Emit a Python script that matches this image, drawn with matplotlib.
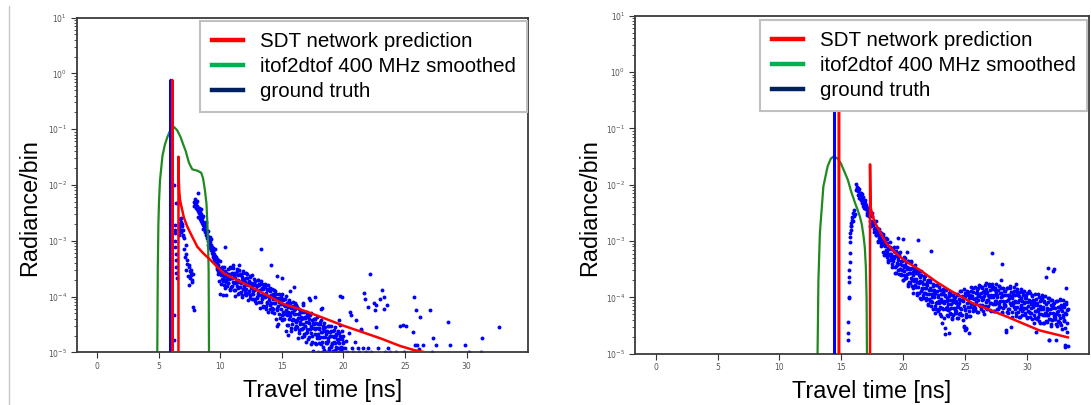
import numpy as np
import matplotlib.pyplot as plt
from matplotlib.lines import Line2D
from matplotlib.ticker import NullFormatter

# shared axis settings
x_lim = (-1.665, 34.965)
y_lim = (1e-5, 1e1)
x_ticks = [0, 5, 10, 15, 20, 25, 30]
bin_ns = 0.05

legend_labels = ['SDT network prediction', 'itof2dtof 400 MHz smoothed', 'ground truth']
legend_colors = ['#ff0000', '#00b050', '#002060']

# ---------------- left scene ----------------
left_gt_t = [5.93, 5.97, 6.01]
left_gt_r = [0, 0.76, 0]

left_pred_t = [6.06, 6.10, 6.14, 6.56, 6.60, 6.63, 6.66, 6.72, 6.80, 6.91, 7.04, 7.31, 7.70,
               8.13, 8.60, 9.20, 10.28, 11.30, 12.45, 13.80, 15.15, 16.30, 17.58, 18.80,
               20.00, 23.00, 24.60, 25.70, 26.64, 33.30]
left_pred_r = [0, 0.76, 0, 0, 0.032, 0.012, 8e-3, 5.5e-3, 4.5e-3, 3.5e-3, 2.6e-3, 1.8e-3, 1.2e-3,
               7.8e-4, 6.0e-4, 4.5e-4, 2.6e-4, 2.0e-4, 1.5e-4, 1.05e-4, 7.3e-5, 6.1e-5, 4.8e-5, 3.8e-5,
               3.0e-5, 1.78e-5, 1.3e-5, 1.1e-5, 1.0e-5, 4e-6]

left_itof_t = [4.86, 4.88, 4.92, 4.97, 5.02, 5.10, 5.20, 5.30, 5.50, 5.70, 5.95, 6.22, 6.50, 6.77,
               7.00, 7.18, 7.45, 7.72, 8.13, 8.45, 8.60, 8.75, 8.88, 8.99, 9.05, 9.08, 9.10]
left_itof_r = [0, 1e-5, 3e-4, 2e-3, 5e-3, 1.2e-2, 2.0e-2, 3.3e-2, 5.3e-2, 7.2e-2, 9.7e-2, 0.11, 0.095, 0.072,
               0.052, 0.041, 0.025, 0.019, 0.018, 0.0165, 0.013, 8e-3, 4.5e-3, 1.2e-3, 3e-4, 1e-5, 0]

# measured bins, irregular part (log10 radiance)
left_dots_t = [
    6.22, 6.25, 6.28, 6.30, 6.32, 6.34, 6.36, 6.38, 6.40, 6.42, 6.44, 6.46, 6.27, 6.33,
    6.62, 6.66, 6.70, 6.73, 6.76, 6.80, 6.83, 6.86, 6.90, 6.93, 6.97, 7.00, 7.04, 6.68, 6.78, 6.88,
    7.05, 7.12, 7.19, 7.23, 7.27, 7.33, 7.38, 7.42, 7.47, 7.50, 7.54, 7.58, 7.61, 7.65, 7.68,
    7.72, 7.75, 7.80, 7.90, 7.47, 7.19,
    7.88, 7.92, 7.95, 7.98, 8.02, 8.05, 8.08, 8.12, 8.15, 8.18, 8.22, 8.25, 8.28, 8.32, 8.35,
    8.38, 8.42, 8.45, 8.48, 8.52, 8.55, 8.58, 8.62, 8.65, 8.68, 8.72, 8.75, 8.78, 8.82, 8.85,
    8.88, 8.92, 8.95, 8.98, 9.02, 9.05, 9.08, 9.12, 9.15, 9.18, 9.22, 9.25, 9.28, 9.32, 9.35,
    9.38, 9.42, 9.45, 9.48, 9.52, 9.55, 9.58,
    7.90, 7.97, 8.03, 8.10, 8.17, 8.23, 8.30, 8.37, 8.43, 8.50, 8.57, 8.63, 8.70, 8.77, 8.83,
    8.90, 8.97, 9.03, 9.10, 9.17, 9.23, 9.30, 9.37, 9.43, 9.50, 9.57, 9.63, 9.70, 9.77, 9.83,
    9.90, 9.97, 10.03, 10.10, 10.17, 10.23, 10.30, 10.37, 10.43, 10.50, 10.57,
    9.62, 9.65, 9.68, 9.72, 9.75, 9.78, 9.82, 9.85, 9.88, 9.92, 9.95, 9.98, 10.02, 10.05, 10.08,
    10.12, 10.15, 10.18, 10.22, 10.25, 10.28, 10.32, 10.35, 10.38, 10.42, 10.45, 10.48, 10.52,
    10.55, 10.58, 10.41,
    13.34, 14.12, 14.61, 15.02, 11.50, 10.50, 14.60, 15.48, 16.02, 15.64, 16.10, 16.70, 16.75,
    17.22, 17.25, 17.73, 18.18, 18.27, 19.67, 19.70, 19.75, 19.87,
    20.10, 20.20, 20.30, 20.45, 20.50, 20.60, 20.70, 20.80, 20.90, 21.05, 21.15, 21.30, 21.40,
    21.45, 21.60, 21.70, 21.72, 21.80, 21.96, 22.00, 22.13, 22.20, 22.45, 22.59, 22.67, 22.80,
    23.00, 23.13, 23.26, 23.40, 23.60, 23.80, 24.30, 24.60, 24.83, 25.10, 24.90, 25.64, 25.75,
    25.80, 25.89, 25.95, 26.13, 26.18, 26.50, 26.99, 27.20, 27.26, 27.53, 28.53, 28.67, 29.89,
    30.16, 31.19, 31.27, 32.67, 22.62, 23.50, 23.28]
left_dots_log = [
    -4.33, -2.00, -2.72, -2.87, -3.00, -3.11, -3.23, -3.35, -2.33, -3.47, -3.58, -3.67, -4.78, -2.80,
    -2.70, -2.77, -2.62, -2.82, -2.72, -2.66, -2.85, -2.74, -2.70, -2.89, -2.80, -2.92, -2.96, -2.89, -2.59, -2.81,
    -3.14, -3.29, -3.23, -3.08, -3.35, -3.41, -3.64, -3.47, -3.79, -3.55, -3.67, -3.58, -3.62, -3.52, -3.70,
    -3.74, -3.60, -4.18, -4.24, -3.44, -3.52,
    -2.30, -2.38, -2.25, -2.34, -2.41, -2.32, -2.44, -2.37, -2.47, -2.15, -2.42, -2.51, -2.44, -2.55, -2.48,
    -2.60, -2.52, -2.64, -2.57, -2.68, -2.60, -2.72, -2.66, -2.77, -2.70, -2.81, -2.74, -2.85, -2.80, -2.90,
    -2.84, -2.96, -2.89, -3.00, -2.94, -3.05, -2.98, -3.09, -3.02, -3.13, -3.07, -3.17, -3.11, -3.22, -3.15,
    -3.26, -3.19, -3.30, -3.24, -3.34, -3.28, -3.38,
    -2.37, -2.29, -2.38, -2.29, -2.57, -2.41, -2.49, -2.62, -2.44, -2.64, -2.56, -2.79, -2.70, -2.80, -2.67,
    -2.92, -2.83, -3.08, -2.99, -2.93, -2.97, -3.12, -3.30, -3.13, -3.31, -3.15, -3.35, -3.32, -3.50, -3.34,
    -3.49, -3.36, -3.59, -3.51, -3.48, -3.69, -3.47, -3.60, -3.57, -3.70, -3.59,
    -3.30, -3.41, -3.35, -3.48, -3.40, -3.54, -3.44, -3.60, -3.51, -3.72, -3.55, -3.96, -3.62, -3.52, -3.77,
    -3.59, -3.68, -3.98, -3.57, -3.72, -3.64, -3.80, -3.54, -3.70, -3.85, -3.62, -3.74, -3.59,
    -3.82, -3.66, -3.12,
    -3.15, -3.44, -3.64, -3.67, -3.43, -3.98, -4.53, -4.69, -3.83, -3.91, -4.12, -4.12, -4.15,
    -4.03, -4.06, -4.01, -4.23, -4.21, -4.42, -4.51, -3.99, -4.00,
    -4.92, -4.80, -5.00, -4.66, -4.27, -4.34, -4.92, -5.00, -4.82, -4.42, -4.92, -5.00, -4.59,
    -4.60, -4.92, -3.94, -4.04, -5.00, -4.19, -4.92, -3.60, -5.00, -4.12, -4.24, -4.55, -4.92,
    -4.05, -3.88, -4.23, -5.00, -4.92, -5.00, -5.00, -4.52, -4.51, -4.53, -5.00, -4.63, -4.01,
    -4.87, -4.24, -4.87, -4.94, -4.37, -4.87, -4.24, -5.00, -4.74, -4.87, -4.45, -4.87, -4.87,
    -5.00, -5.00, -4.74, -4.55, -4.15, -4.15, -4.00]

# regular bins, two interleaved passes (log10 radiance)
left_band_start = 10.600
left_band_log = [
    -3.50, -3.75, -3.61, -3.88, -3.47, -3.67, -3.83, -3.58, -3.74, -3.44,
    -3.88, -3.62, -3.99, -3.59, -3.74, -3.54, -3.85, -3.70, -3.94, -3.52,
    -3.83, -3.61, -3.92, -3.70, -4.01, -3.58, -3.81, -3.69, -3.91, -3.58,
    -3.98, -3.78, -3.67, -4.07, -3.74, -3.91, -3.65, -3.97, -3.80, -4.05,
    -3.62, -3.91, -3.75, -4.04, -3.86, -3.72, -4.12, -3.81, -4.01, -3.71,
    -3.94, -3.80, -4.20, -3.88, -4.09, -3.77, -4.03, -3.86, -4.17, -3.83,
    -4.00, -3.77, -4.17, -3.94, -4.11, -3.86, -4.27, -4.00, -4.15, -3.85,
    -4.11, -3.97, -4.28, -3.95, -4.22, -3.89, -4.12, -4.03, -4.41, -3.96,
    -4.21, -4.02, -4.50, -4.10, -4.32, -4.02, -4.22, -4.00, -4.42,
    -4.07, -4.40, -4.16, -4.32, -4.04, -4.61, -4.24, -4.11, -4.51, -4.19,
    -4.40, -4.07, -4.35, -4.20, -4.61, -4.28, -4.49, -4.17, -4.43, -4.24,
    -4.59, -4.32, -4.52, -4.19, -4.42, -4.75, -4.32, -4.60, -4.27, -4.50,
    -4.41, -4.72, -4.27, -4.56, -4.39, -4.67, -4.36, -4.52, -4.81, -4.34,
    -4.63, -4.46, -4.76, -4.40, -4.59, -4.34, -4.85, -4.53, -4.71, -4.47,
    -4.97, -4.50, -4.67, -4.41, -4.85, -4.57, -4.75, -4.49, -4.99, -4.57,
    -4.74, -4.46, -4.85, -4.64, -5.00, -4.53, -4.73, -4.60, -4.95, -4.54,
    -4.82, -4.67, -5.00, -4.61, -4.80, -4.53, -4.92, -4.71, -4.88, -4.62,
    -4.86, -4.71, -5.00, -4.60, -4.82, -4.70, -4.96, -4.69, -4.93, -4.77,
    -4.62, -4.93, -4.76, -5.00, -4.70, -4.90, -4.76, -5.00, -4.83, -4.70]
left_band2_start = 10.625
left_band2_log = [
    -3.76, -3.59, -3.68, -3.49, -3.87, -3.59, -3.66, -3.81, -3.49, -3.76,
    -3.57, -3.88, -3.67, -3.75, -3.50, -3.81, -3.62, -3.95, -3.74, -3.59,
    -3.60, -3.75, -3.98, -3.65, -3.86, -3.55, -3.81, -3.74, -3.96, -3.66,
    -3.86, -3.60, -3.93, -3.79, -3.72, -4.02, -3.64, -3.85, -3.76, -3.95,
    -3.96, -3.79, -3.88, -3.69, -4.08, -3.79, -3.87, -4.02, -3.70, -3.98,
    -3.78, -4.10, -3.89, -3.97, -3.72, -4.04, -3.84, -4.18, -3.97, -3.82,
    -3.83, -3.99, -4.22, -3.89, -4.10, -3.80, -4.06, -3.99, -4.22, -3.91,
    -4.12, -3.86, -4.20, -4.05, -3.99, -4.29, -3.91, -4.12, -4.04, -4.22,
    -4.25, -4.05, -4.17, -3.95, -4.38, -4.06, -4.14, -4.33, -3.96, -4.27,
    -4.05, -4.41, -4.17, -4.28, -3.99, -4.34, -4.12, -4.51, -4.27, -4.10,
    -4.11, -4.30, -4.56, -4.19, -4.43, -4.09, -4.40, -4.31, -4.57, -4.22,
    -4.46, -4.16, -4.55, -4.38, -4.31, -4.65, -4.23, -4.46, -4.36, -4.58,
    -4.58, -4.38, -4.50, -4.27, -4.71, -4.39, -4.46, -4.65, -4.28, -4.59,
    -4.37, -4.73, -4.48, -4.59, -4.30, -4.65, -4.43, -4.81, -4.57, -4.40,
    -4.40, -4.59, -4.84, -4.47, -4.71, -4.36, -4.67, -4.58, -4.83, -4.49,
    -4.73, -4.42, -4.81, -4.63, -4.57, -4.91, -4.48, -4.72, -4.62, -4.83,
    -4.84, -4.63, -4.75, -4.53, -4.96, -4.64, -4.71, -4.90, -4.53, -4.84,
    -4.62, -4.98, -4.73, -4.84, -4.54, -4.90, -4.68, -5.00, -4.82, -4.64,
    -4.65, -4.84, -5.00, -4.72, -4.95, -4.61, -4.92, -4.82]

# ---------------- right scene ----------------
right_gt_t = [14.42, 14.46, 14.50]
right_gt_r = [0, 0.7, 0]

right_pred_t = [14.77, 14.81, 14.85, 17.29, 17.32, 17.36, 17.42, 17.68, 18.09, 18.63, 19.43, 20.24,
                21.31, 22.66, 23.73, 25.61, 28.31, 30.99, 33.30]
right_pred_r = [0, 0.7, 0, 0, 0.023, 4.2e-3, 3.5e-3, 2.2e-3, 1.5e-3, 9.1e-4, 6.0e-4, 4.3e-4,
                3.1e-4, 1.9e-4, 1.35e-4, 7.9e-5, 4.6e-5, 2.6e-5, 1.95e-5]

right_itof_t = [13.05, 13.08, 13.15, 13.27, 13.55, 13.89, 14.15, 14.40, 14.70, 14.96, 15.25, 15.52,
                15.80, 16.10, 16.31, 16.48, 16.65, 16.80, 16.90, 16.98, 17.04, 17.07, 17.09]
right_itof_r = [0, 1e-5, 2e-4, 1.4e-3, 9.3e-3, 0.021, 0.029, 0.032, 0.029, 0.024, 0.017, 0.0123,
                7.5e-3, 4.8e-3, 3.6e-3, 2.8e-3, 2.0e-3, 1.2e-3, 7.5e-4, 3.5e-4, 1e-4, 1e-5, 0]

right_dots_t = [
    15.53, 15.55, 15.57, 15.60, 15.62, 15.64, 15.65, 15.66, 15.68, 15.69, 15.70, 15.72,
    15.74, 15.76, 15.78, 15.80, 15.82, 15.85, 15.88, 15.92, 15.96, 16.00, 16.05, 16.10,
    19.60, 20.00, 20.30, 21.20, 22.27, 27.15, 27.90, 28.00, 29.10, 31.50, 31.70, 32.10,
    32.15, 33.15, 23.10, 25.30, 28.30, 23.70, 23.40, 25.00, 33.10, 31.80, 24.90, 25.05]
right_dots_log = [
    -4.76, -4.64, -4.43, -3.99, -4.02, -3.72, -3.63, -3.51, -3.37, -3.22, -3.01, -2.93,
    -2.86, -2.80, -2.74, -2.68, -2.74, -2.62, -2.58, -2.65, -2.50, -2.55, -2.45, -2.52,
    -2.95, -2.97, -3.19, -2.99, -3.17, -3.22, -3.70, -3.41, -3.76, -3.63, -3.47, -3.54,
    -3.50, -3.84, -4.46, -4.64, -4.61, -4.64, -4.65, -4.58, -4.88, -4.76, -4.50, -4.56]

right_band_start = 16.200
right_band_log = [
    -1.98, -2.09, -2.06, -2.18, -2.08, -2.16, -2.24, -2.18, -2.25, -2.17,
    -2.33, -2.27, -2.41, -2.30, -2.37, -2.32, -2.44, -2.42, -2.51, -2.41,
    -2.55, -2.47, -2.64, -2.56, -2.74, -2.55, -2.69, -2.65, -2.78, -2.64,
    -2.80, -2.77, -2.89, -2.78, -2.88, -2.79, -3.00, -2.89, -2.98, -2.84,
    -2.86, -3.06, -2.97, -3.19, -2.91, -3.07, -3.20, -3.04, -3.16, -2.96,
    -3.28, -3.12, -3.38, -3.11, -3.23, -3.10, -3.33, -3.23, -3.41, -3.12,
    -3.36, -3.18, -3.46, -3.27, -3.56, -3.18, -3.39, -3.29, -3.51, -3.21,
    -3.49, -3.41, -3.60, -3.35, -3.52, -3.33, -3.69, -3.46, -3.60, -3.30,
    -3.37, -3.63, -3.49, -3.77, -3.36, -3.57, -3.73, -3.49, -3.65, -3.36,
    -3.80, -3.55, -3.92, -3.53, -3.68, -3.49, -3.82, -3.68, -3.92, -3.51,
    -3.82, -3.61, -3.92, -3.71, -4.03, -3.60, -3.84, -3.72, -3.96, -3.62,
    -3.93, -3.84, -4.05, -3.76, -3.94, -3.73, -4.14, -3.87, -4.03, -3.69,
    -3.72, -4.15, -3.94, -4.09, -3.79, -4.00, -3.87, -4.28, -3.93, -4.20,
    -3.78, -4.09, -3.95, -4.21, -4.06, -3.87, -4.30, -4.03, -4.19, -3.94,
    -3.86, -4.21, -4.07, -4.55, -3.95, -4.18, -4.01, -4.31, -4.12, -4.22,
    -3.92, -4.27, -4.05, -4.18, -3.95, -4.39, -4.09, -4.31, -4.01, -4.23,
    -4.00, -4.25, -4.10, -4.37, -3.95, -4.14, -4.29, -4.04, -4.19, -3.89,
    -4.31, -4.05, -4.40, -4.00, -4.52, -3.93, -4.22, -4.55, -4.30, -3.88,
    -4.17, -3.95, -4.24, -4.02, -4.33, -3.88, -4.11, -3.97, -4.19, -3.84,
    -4.14, -4.03, -4.23, -3.93, -4.09, -3.87, -4.26, -3.98, -4.13, -3.78,
    -3.79, -4.21, -3.99, -4.13, -3.83, -4.03, -3.89, -4.29, -3.93, -4.18,
    -3.75, -4.05, -3.90, -4.15, -4.00, -3.80, -4.22, -3.95, -4.10, -3.85,
    -3.76, -4.11, -3.96, -4.24, -3.84, -4.06, -3.90, -4.20, -4.00, -4.10,
    -3.80, -4.16, -3.93, -4.07, -3.84, -4.28, -3.97, -4.19, -3.89, -4.11,
    -3.88, -4.13, -4.58, -4.26, -3.84, -4.05, -4.20, -3.95, -4.10, -3.80,
    -4.53, -3.98, -4.34, -3.94, -4.08, -3.88, -4.20, -4.06, -4.28, -3.86,
    -4.17, -3.95, -4.26, -4.04, -4.35, -3.91, -4.14, -4.01, -4.25, -3.90,
    -4.20, -4.10, -4.31, -4.01, -4.18, -3.96, -4.36, -4.08, -4.24, -3.89,
    -3.92, -4.34, -4.12, -4.27, -3.97, -4.17, -4.04, -4.45, -4.09, -4.36,
    -4.62, -4.24, -4.10, -4.35, -4.20, -4.00, -4.42, -4.15, -4.30, -4.05,
    -3.96, -4.32, -4.17, -4.45, -4.06, -4.28, -4.11, -4.42, -4.22, -4.32,
    -4.02, -4.38, -4.76, -4.28, -4.05, -4.50, -4.19, -4.41, -4.11, -4.33,
    -4.10, -4.35, -4.76, -4.48, -4.06, -4.26, -4.42, -4.17, -4.32, -4.03,
    -4.46, -4.20, -4.57, -4.17, -4.31, -4.12, -4.42, -4.28, -4.84, -4.08,
    -4.62, -4.22, -4.86]
right_band2_start = 16.225
right_band2_log = [
    -2.09, -2.04, -2.11, -2.05, -2.24, -2.14, -2.19, -2.28, -2.15, -2.29,
    -2.22, -2.38, -2.31, -2.37, -2.27, -2.43, -2.36, -2.54, -2.47, -2.43,
    -2.41, -2.55, -2.73, -2.52, -2.69, -2.51, -2.71, -2.67, -2.84, -2.66,
    -2.82, -2.65, -2.90, -2.82, -2.80, -3.02, -2.78, -2.94, -2.89, -3.04,
    -3.08, -2.94, -3.04, -2.88, -3.24, -3.00, -3.08, -3.23, -2.95, -3.20,
    -3.04, -3.33, -3.15, -3.24, -3.02, -3.31, -3.15, -3.46, -3.27, -3.14,
    -3.11, -3.31, -3.57, -3.20, -3.44, -3.10, -3.42, -3.33, -3.59, -3.25,
    -3.49, -3.20, -3.59, -3.42, -3.36, -3.70, -3.29, -3.53, -3.43, -3.65,
    -3.66, -3.46, -3.58, -3.36, -3.80, -3.48, -3.56, -3.75, -3.38, -3.70,
    -3.48, -3.84, -3.60, -3.71, -3.42, -3.78, -3.56, -3.96, -3.72, -3.55,
    -3.56, -3.75, -4.01, -3.64, -3.88, -3.54, -3.85, -3.76, -4.02, -3.68,
    -3.92, -3.62, -4.01, -3.84, -3.78, -4.12, -3.70, -3.94, -3.84, -4.06,
    -4.07, -3.87, -3.99, -3.77, -4.21, -3.88, -3.96, -4.15, -3.78, -4.10,
    -3.88, -4.24, -4.00, -4.10, -3.81, -4.17, -3.94, -4.33, -4.08, -3.91,
    -3.92, -4.10, -4.36, -3.98, -4.21, -3.87, -4.17, -4.07, -4.33, -3.98,
    -4.21, -3.90, -4.29, -4.11, -4.04, -4.37, -3.95, -4.18, -4.07, -4.28,
    -4.28, -4.07, -4.17, -3.94, -4.37, -4.03, -4.10, -4.28, -3.89, -4.20,
    -3.97, -4.32, -4.06, -4.16, -3.86, -4.21, -3.97, -4.35, -4.10, -3.92,
    -3.91, -4.09, -4.33, -3.95, -4.17, -3.82, -4.11, -4.01, -4.25, -3.90,
    -4.13, -3.81, -4.19, -4.01, -3.93, -4.26, -3.83, -4.05, -3.94, -4.15,
    -4.14, -3.93, -4.04, -3.81, -4.24, -3.91, -3.98, -4.16, -3.78, -4.09,
    -3.86, -4.21, -3.96, -4.05, -3.76, -4.10, -3.87, -4.25, -4.00, -3.82,
    -3.82, -4.00, -4.25, -3.87, -4.11, -3.76, -4.06, -3.96, -4.21, -3.87,
    -4.10, -3.79, -4.17, -3.99, -3.92, -4.26, -3.83, -4.06, -3.95, -4.16,
    -4.16, -3.96, -4.07, -3.84, -4.28, -3.95, -4.02, -4.20, -3.83, -4.14,
    -3.91, -4.26, -4.02, -4.12, -3.82, -4.17, -3.95, -4.33, -4.08, -3.90,
    -3.91, -4.09, -4.34, -3.97, -4.20, -3.85, -4.15, -4.06, -4.31, -3.96,
    -4.19, -3.89, -4.27, -4.09, -4.02, -4.35, -3.93, -4.16, -4.05, -4.26,
    -4.27, -4.06, -4.18, -3.95, -4.38, -4.06, -4.13, -4.32, -3.94, -4.25,
    -4.03, -4.38, -4.13, -4.24, -3.94, -4.29, -4.07, -4.45, -4.20, -4.02,
    -4.02, -4.21, -4.46, -4.08, -4.32, -3.97, -4.27, -4.18, -4.43, -4.08,
    -4.31, -4.01, -4.39, -4.21, -4.14, -4.48, -4.05, -4.28, -4.17, -4.38,
    -4.39, -4.18, -4.29, -4.07, -4.50, -4.17, -4.24, -4.43, -4.05, -4.36,
    -4.14, -4.49, -4.24, -4.35, -4.05, -4.40, -4.17, -4.55, -4.30, -4.12,
    -4.45, -4.20]

# placement in figure pixels of the slide
fig_w, fig_h = 1091, 405
left_box = [76.7, 17.5, 527.7, 352.3]
right_box = [635.0, 15.7, 1088.5, 353.7]


def to_fig(box):
    x0, y0, x1, y1 = box
    return [x0 / fig_w, 1 - y1 / fig_h, (x1 - x0) / fig_w, (y1 - y0) / fig_h]


def panel(ax, gt, pred, itof, dots, bands):
    ts, logs = [np.asarray(dots[0])], [np.asarray(dots[1])]
    for start, vals in bands:
        ts.append(start + bin_ns * np.arange(len(vals)))
        logs.append(np.asarray(vals))
    ax.set_yscale('log')
    ax.plot(np.concatenate(ts), 10.0 ** np.concatenate(logs), 'o', color='#0000ff',
            ms=2.8, mew=0, zorder=1)
    ax.plot(itof[0], itof[1], color='#1f8a1f', lw=1.6, zorder=2)
    ax.plot(gt[0], gt[1], color='#0000ff', lw=1.8, zorder=3)
    ax.plot(pred[0], pred[1], color='#ff0000', lw=1.8, zorder=4)
    ax.set_xlim(*x_lim)
    ax.set_ylim(*y_lim)
    ax.set_xticks(x_ticks)
    ax.yaxis.set_minor_formatter(NullFormatter())
    ax.tick_params(which='major', labelsize=5.5, length=4, width=0.8, pad=3,
                   colors='#333333', labelcolor='#555555')
    ax.tick_params(which='minor', length=2.2, width=0.6, colors='#333333')
    # the slide draws its own axis titles
    for t in (ax.xaxis.label, ax.yaxis.label, ax.xaxis.offsetText, ax.yaxis.offsetText):
        t.set_visible(False)
    for s in ax.spines.values():
        s.set_color('#3a3a3a')
        s.set_linewidth(1.3)


fig = plt.figure(figsize=(fig_w / 100, fig_h / 100), dpi=100)
ax1 = fig.add_axes(to_fig(left_box))
ax2 = fig.add_axes(to_fig(right_box))

panel(ax1, (left_gt_t, left_gt_r), (left_pred_t, left_pred_r), (left_itof_t, left_itof_r),
      (left_dots_t, left_dots_log),
      [(left_band_start, left_band_log), (left_band2_start, left_band2_log)])
panel(ax2, (right_gt_t, right_gt_r), (right_pred_t, right_pred_r), (right_itof_t, right_itof_r),
      (right_dots_t, right_dots_log),
      [(right_band_start, right_band_log), (right_band2_start, right_band2_log)])

handles = [Line2D([], [], color=c, lw=3.2) for c in legend_colors]
for ax, anchor in [(ax1, (527 / fig_w, 1 - 21 / fig_h)), (ax2, (1087 / fig_w, 1 - 20 / fig_h))]:
    leg = ax.legend(handles, legend_labels, loc='upper right', bbox_to_anchor=anchor,
                    bbox_transform=fig.transFigure, borderaxespad=0,
                    prop={'family': 'Liberation Sans', 'size': 14.8},
                    fancybox=False, framealpha=1, edgecolor='#c0c0c0',
                    handlelength=1.55, handletextpad=0.8, labelspacing=0.28, borderpad=0.55)
    leg.get_frame().set_linewidth(1.5)
    leg.set_zorder(10)

lab = dict(family='Liberation Sans', fontsize=16.8, ha='center', va='center')
fig.text(30 / fig_w, 1 - 207.5 / fig_h, 'Radiance/bin', rotation=90, **lab)
fig.text(590 / fig_w, 1 - 208 / fig_h, 'Radiance/bin', rotation=90, **lab)
fig.text(322.7 / fig_w, 1 - 390 / fig_h, 'Travel time [ns]', **lab)
fig.text(871.6 / fig_w, 1 - 391.7 / fig_h, 'Travel time [ns]', **lab)

# thin slide divider on the far left
fig.add_artist(Line2D([9 / fig_w, 9 / fig_w], [0, 1 - 6 / fig_h],
                      transform=fig.transFigure, color='#c8c8c8', lw=1))

fig.savefig('out.png', dpi=100)
